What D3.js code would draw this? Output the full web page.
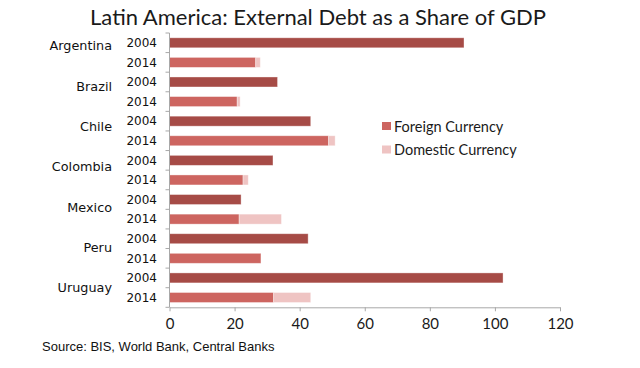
<!DOCTYPE html>
<html><head><meta charset="utf-8">
<script src="https://cdn.jsdelivr.net/npm/d3@7"></script>
<style>body{margin:0;background:#fff}svg{display:block}</style>
</head><body>
<svg id="c" width="640" height="368"></svg>
<script>
const countries = ["Argentina","Brazil","Chile","Colombia","Mexico","Peru","Uruguay"];
const years = ["2004","2014"];
const foreign2004 = [90.5, 33.2, 43.4, 31.8, 22.0, 42.6, 102.5];
const domestic2004 = [0, 0, 0, 0, 0, 0, 0];
const foreign2014 = [26.5, 20.8, 48.9, 22.6, 21.4, 28.1, 32.0];
const domestic2014 = [1.4, 0.9, 2.0, 1.6, 13.0, 0.0, 11.4];
const xTicks = [0, 20, 40, 60, 80, 100, 120];
const title = "Latin America: External Debt as a Share of GDP";
const source = "Source: BIS, World Bank, Central Banks";
const legendLabels = ["Foreign Currency", "Domestic Currency"];

const rows = [];
countries.forEach((c, i) => {
  rows.push({country: c, year: years[0], key: c + years[0], foreign: foreign2004[i], domestic: domestic2004[i], ci: i});
  rows.push({country: c, year: years[1], key: c + years[1], foreign: foreign2014[i], domestic: domestic2014[i], ci: i});
});

const col2004 = "#a64b46", col2014 = "#cd6560", colDom = "#efc4c3", axisCol = "#a8a8a8";
const svg = d3.select("#c");
const m = {l: 169.5, r: 560, t: 33, b: 307.3};

const x = d3.scaleLinear().domain([0, 120]).range([m.l, m.r]);
const y = d3.scaleBand().domain(rows.map(d => d.key)).range([m.t, m.b]).paddingInner(0.49).paddingOuter(0.245);

svg.append("text").attr("x", 318).attr("y", 25).attr("text-anchor", "middle")
  .attr("font-family", "Lato, 'Open Sans', sans-serif").attr("font-size", 22).attr("fill", "#1a1a1a").text(title);

// bars
const g = svg.append("g");
g.selectAll("rect.f").data(rows).join("rect").attr("class", "f")
  .attr("x", x(0)).attr("y", d => y(d.key)).attr("height", y.bandwidth())
  .attr("width", d => x(d.foreign) - x(0))
  .attr("fill", d => d.year === years[0] ? col2004 : col2014)
  .attr("stroke", "rgba(255,255,255,0.45)").attr("stroke-width", 0.8);
g.selectAll("rect.d").data(rows.filter(d => d.domestic > 0)).join("rect").attr("class", "d")
  .attr("x", d => x(d.foreign)).attr("y", d => y(d.key)).attr("height", y.bandwidth())
  .attr("width", d => x(d.foreign + d.domestic) - x(d.foreign))
  .attr("fill", colDom).attr("stroke", "rgba(255,255,255,0.45)").attr("stroke-width", 0.8);

// y axis line and ticks at band boundaries
const step = y.step();
const bounds = d3.range(rows.length + 1).map(i => m.t + i * (m.b - m.t) / rows.length);
svg.append("line").attr("x1", m.l).attr("x2", m.l).attr("y1", m.t).attr("y2", m.b).attr("stroke", axisCol);
svg.selectAll("line.yt").data(bounds).join("line").attr("class", "yt")
  .attr("x1", m.l - 4).attr("x2", m.l).attr("y1", d => d).attr("y2", d => d).attr("stroke", axisCol);

// x axis
const xAxis = d3.axisBottom(x).tickValues(xTicks).tickSize(4).tickSizeOuter(0).tickPadding(7);
const xg = svg.append("g").attr("transform", `translate(0,${m.b})`).call(xAxis);
xg.select(".domain").attr("stroke", axisCol);
xg.selectAll(".tick line").attr("stroke", axisCol);
xg.selectAll(".tick text").attr("font-family", "Lato, sans-serif").attr("font-size", 15).attr("fill", "#1a1a1a");

// year labels
svg.selectAll("text.yr").data(rows).join("text").attr("class", "yr")
  .attr("x", 157).attr("y", d => y(d.key) + y.bandwidth() / 2).attr("dy", "0.36em")
  .attr("text-anchor", "end").attr("font-family", "'DejaVu Sans', sans-serif").attr("font-size", 12)
  .attr("fill", "#111").text(d => d.year);

// country labels (drift from 2004 row toward group centre like the original)
const drift = d3.scaleLinear().domain([0, countries.length - 1]).range([0.15, 0.5]);
svg.selectAll("text.ct").data(countries).join("text").attr("class", "ct")
  .attr("x", 112).attr("y", (c, i) => y(c + years[0]) + y.bandwidth() / 2 + drift(i) * step)
  .attr("dy", "0.36em").attr("text-anchor", "end")
  .attr("font-family", "'DejaVu Sans', sans-serif").attr("font-size", 12.8).attr("fill", "#111").text(c => c);

// legend
const lg = svg.append("g").attr("transform", "translate(382,122)");
const legCols = [col2014, colDom];
legendLabels.forEach((t, i) => {
  lg.append("rect").attr("x", 0).attr("y", i * 23.5).attr("width", 9).attr("height", 8).attr("fill", legCols[i]);
  lg.append("text").attr("x", 12).attr("y", i * 23.5 + 4.5).attr("dy", "0.36em")
    .attr("font-family", "Lato, sans-serif").attr("font-size", 14.5).attr("fill", "#1a1a1a").text(t);
});

svg.append("text").attr("x", 42).attr("y", 351).attr("font-family", "'Liberation Sans', Arial, sans-serif")
  .attr("font-size", 13).attr("fill", "#111").text(source);
</script>
</body></html>
